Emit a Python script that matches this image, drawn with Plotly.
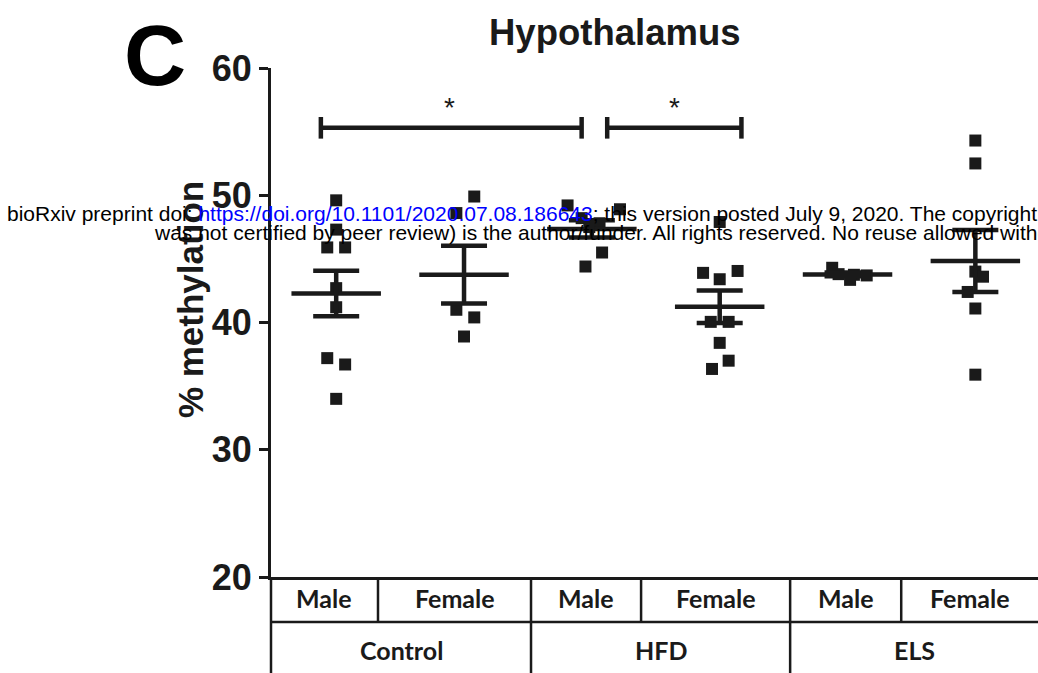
import numpy as np
import plotly.graph_objects as go

# % methylation per animal, hypothalamus
control_male = [49.6, 47.3, 45.9, 45.9, 42.7, 41.2, 37.2, 36.7, 34.0]
control_female = [49.9, 48.6, 41.0, 40.4, 38.9]
hfd_male = [49.2, 48.9, 48.2, 47.8, 47.5, 45.5, 44.4]
hfd_female = [47.9, 44.05, 43.9, 43.4, 40.05, 40.05, 38.4, 37.0, 36.35]
els_male = [44.3, 43.8, 43.75, 43.7, 43.35]
els_female = [54.3, 52.5, 44.0, 43.6, 42.4, 41.1, 35.9]

sex_labels = ["Male", "Female", "Male", "Female", "Male", "Female"]
condition_labels = ["Control", "HFD", "ELS"]
y_ticks = [20, 30, 40, 50, 60]

groups = [control_male, control_female, hfd_male, hfd_female, els_male, els_female]

# horizontal scatter of overlapping points within a column
spread = [
    [0, 0, -0.07, 0.07, 0, 0, -0.07, 0.07, 0],
    [0.08, -0.06, -0.06, 0.08, 0],
    [-0.19, 0.22, -0.08, 0.06, -0.02, 0.08, -0.05],
    [0, 0.14, -0.13, 0, -0.07, 0.07, 0, 0.07, -0.06],
    [-0.12, -0.07, 0.05, 0.15, 0.02],
    [0, 0, 0, 0.06, -0.06, 0, 0],
]

INK = "#1a1a1a"
X_RANGE = [0.49, 6.49]
MEAN_HALF = 0.35

fig = go.Figure()

for i, (vals, dx) in enumerate(zip(groups, spread), start=1):
    v = np.array(vals)
    xs = i + np.array(dx)
    fig.add_trace(go.Scatter(
        x=xs, y=v, mode="markers",
        marker=dict(symbol="square", size=12, color=INK, line=dict(width=0)),
        showlegend=False, hoverinfo="y"))
    mean = v.mean()
    sem = v.std(ddof=1) / np.sqrt(len(v))
    fig.add_trace(go.Scatter(
        x=[i - MEAN_HALF, i + MEAN_HALF], y=[mean, mean], mode="lines",
        line=dict(color=INK, width=4.5), showlegend=False, hoverinfo="skip"))
    fig.add_trace(go.Scatter(
        x=[i], y=[mean], mode="markers",
        marker=dict(size=1, color="rgba(0,0,0,0)"),
        error_y=dict(type="data", array=[sem], color=INK, thickness=4.5, width=23),
        showlegend=False, hoverinfo="skip"))

shapes = []

# significance brackets
def bracket(x0, x1, y, cap):
    return [
        dict(type="line", xref="x", yref="y", x0=x0, x1=x1, y0=y, y1=y,
             line=dict(color=INK, width=4.5)),
        dict(type="line", xref="x", yref="y", x0=x0, x1=x0, y0=y - cap, y1=y + cap,
             line=dict(color=INK, width=4.5)),
        dict(type="line", xref="x", yref="y", x0=x1, x1=x1, y0=y - cap, y1=y + cap,
             line=dict(color=INK, width=4.5)),
    ]

shapes += bracket(0.88, 2.92, 55.3, 0.85)
shapes += bracket(3.12, 4.17, 55.3, 0.85)

# category table under the x axis
def px(x):
    return (x - X_RANGE[0]) / (X_RANGE[1] - X_RANGE[0])

row_split = -0.0884
table_bottom = -0.25
sex_bounds = [0.49, 1.327, 2.524, 3.385, 4.551, 5.42, 6.5]
cond_bounds = [0.49, 2.524, 4.551, 6.5]

shapes.append(dict(type="line", xref="paper", yref="paper", x0=0, x1=1.05,
                   y0=row_split, y1=row_split, line=dict(color=INK, width=2.5)))
for b in sex_bounds[:-1]:
    bottom_y = table_bottom if b in cond_bounds else row_split
    shapes.append(dict(type="line", xref="paper", yref="paper", x0=px(b), x1=px(b),
                       y0=0, y1=bottom_y, line=dict(color=INK, width=2.5)))

annotations = []
for lab, a, b in zip(sex_labels, sex_bounds[:-1], sex_bounds[1:]):
    annotations.append(dict(text=f"<b>{lab}</b>", xref="paper", yref="paper",
                            x=px((a + b) / 2), y=-0.042, showarrow=False,
                            xanchor="center", yanchor="middle",
                            font=dict(family="Lato", size=25, color=INK)))
for lab, a, b in zip(condition_labels, cond_bounds[:-1], cond_bounds[1:]):
    annotations.append(dict(text=f"<b>{lab}</b>", xref="paper", yref="paper",
                            x=px((a + b) / 2), y=-0.143, showarrow=False,
                            xanchor="center", yanchor="middle",
                            font=dict(family="Lato", size=25, color=INK)))

# significance stars
for sx in [1.89, 3.65]:
    annotations.append(dict(text="*", xref="x", yref="y", x=sx, y=56.9,
                            showarrow=False, font=dict(family="Liberation Sans", size=28, color=INK)))

# titles
annotations.append(dict(text="<b>Hypothalamus</b>", xref="paper", yref="paper",
                        x=0.4485, y=1.0688, showarrow=False, xanchor="center", yanchor="middle",
                        font=dict(family="Liberation Sans", size=36.5, color=INK)))
annotations.append(dict(text="<b>C</b>", xref="paper", yref="paper",
                        x=-0.151, y=1.0255, showarrow=False, xanchor="center", yanchor="middle",
                        font=dict(family="Liberation Sans", size=86, color="#000000")))
annotations.append(dict(text="<b>% methylation</b>", xref="paper", yref="paper",
                        x=-0.1056, y=0.544, showarrow=False, textangle=-90,
                        xanchor="center", yanchor="middle",
                        font=dict(family="Liberation Sans", size=35, color=INK)))

# preprint stamp
line1 = ('bioRxiv preprint doi: <span style="color:#0000ff">https://doi.org/10.1101/2020.07.08.186643</span>; '
         'this version posted July 9, 2020. The copyright holder for this preprint (which')
line2 = ('was not certified by peer review) is the author/funder. All rights reserved. '
         'No reuse allowed without permission.')
annotations.append(dict(text=line1, xref="paper", yref="paper", x=-0.3468, y=0.715,
                        showarrow=False, xanchor="left", yanchor="middle",
                        font=dict(family="Liberation Sans", size=21, color="#000000")))
annotations.append(dict(text=line2, xref="paper", yref="paper", x=-0.155, y=0.677,
                        showarrow=False, xanchor="left", yanchor="middle",
                        font=dict(family="Liberation Sans", size=21, color="#000000")))

fig.update_layout(
    width=1038, height=673,
    margin=dict(l=271, r=0, t=68, b=96),
    paper_bgcolor="white", plot_bgcolor="white",
    shapes=shapes, annotations=annotations,
    xaxis=dict(range=X_RANGE, showline=True, linecolor=INK, linewidth=3,
               showticklabels=False, ticks="", showgrid=False, zeroline=False),
    yaxis=dict(range=[20, 60], tickvals=y_ticks, ticks="outside", ticklen=9,
               tickwidth=3, tickcolor=INK, showline=True, linecolor=INK, linewidth=3,
               showgrid=False, zeroline=False,
               tickfont=dict(family="Liberation Sans", size=36, color=INK, weight="bold")),
)

fig.write_html("out.html")
